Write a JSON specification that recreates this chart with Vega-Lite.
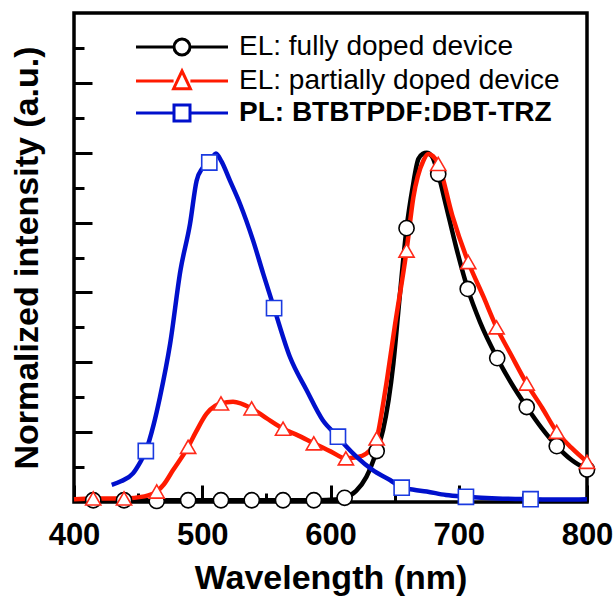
{
  "$schema": "https://vega.github.io/schema/vega-lite/v6.json",
  "width": 513,
  "height": 489,
  "autosize": "none",
  "padding": {"left": 74, "top": 13, "right": 26, "bottom": 95},
  "background": "white",
  "config": {
    "font": "Liberation Sans",
    "view": {"stroke": "black", "strokeWidth": 3.5}
  },
  "datasets": {
    "curves": [
      {"s":"fully","wl":400,"v":0.005},{"s":"fully","wl":450,"v":0.005},{"s":"fully","wl":500,"v":0.005},{"s":"fully","wl":550,"v":0.005},{"s":"fully","wl":590,"v":0.005},{"s":"fully","wl":604,"v":0.007},{"s":"fully","wl":611,"v":0.012},{"s":"fully","wl":620,"v":0.032},{"s":"fully","wl":628,"v":0.072},{"s":"fully","wl":636,"v":0.146},{"s":"fully","wl":641,"v":0.206},{"s":"fully","wl":649,"v":0.396},{"s":"fully","wl":654,"v":0.59},{"s":"fully","wl":659.3,"v":0.784},{"s":"fully","wl":664,"v":0.9},{"s":"fully","wl":668.5,"v":0.982},{"s":"fully","wl":672,"v":0.997},{"s":"fully","wl":675,"v":1.0},{"s":"fully","wl":679,"v":0.99},{"s":"fully","wl":684,"v":0.939},{"s":"fully","wl":690,"v":0.85},{"s":"fully","wl":698,"v":0.729},{"s":"fully","wl":707,"v":0.61},{"s":"fully","wl":716.6,"v":0.515},{"s":"fully","wl":730,"v":0.412},{"s":"fully","wl":741,"v":0.34},{"s":"fully","wl":753,"v":0.272},{"s":"fully","wl":765,"v":0.21},{"s":"fully","wl":776.4,"v":0.16},{"s":"fully","wl":788,"v":0.12},{"s":"fully","wl":800,"v":0.093},
      {"s":"partially","wl":400,"v":0.008},{"s":"partially","wl":415,"v":0.01},{"s":"partially","wl":439,"v":0.01},{"s":"partially","wl":455,"v":0.016},{"s":"partially","wl":464.5,"v":0.03},{"s":"partially","wl":470,"v":0.05},{"s":"partially","wl":477,"v":0.09},{"s":"partially","wl":489,"v":0.158},{"s":"partially","wl":495,"v":0.2},{"s":"partially","wl":503.4,"v":0.253},{"s":"partially","wl":510,"v":0.275},{"s":"partially","wl":514.6,"v":0.282},{"s":"partially","wl":524,"v":0.287},{"s":"partially","wl":538.5,"v":0.268},{"s":"partially","wl":550,"v":0.24},{"s":"partially","wl":563,"v":0.21},{"s":"partially","wl":575,"v":0.19},{"s":"partially","wl":587,"v":0.168},{"s":"partially","wl":600,"v":0.145},{"s":"partially","wl":612,"v":0.125},{"s":"partially","wl":620,"v":0.128},{"s":"partially","wl":628,"v":0.139},{"s":"partially","wl":636,"v":0.182},{"s":"partially","wl":641,"v":0.28},{"s":"partially","wl":644,"v":0.349},{"s":"partially","wl":650,"v":0.5},{"s":"partially","wl":659.3,"v":0.72},{"s":"partially","wl":664.6,"v":0.872},{"s":"partially","wl":672.4,"v":0.977},{"s":"partially","wl":676.3,"v":0.996},{"s":"partially","wl":680,"v":0.99},{"s":"partially","wl":684,"v":0.968},{"s":"partially","wl":695,"v":0.82},{"s":"partially","wl":707.4,"v":0.687},{"s":"partially","wl":719,"v":0.59},{"s":"partially","wl":729.5,"v":0.5},{"s":"partially","wl":741,"v":0.42},{"s":"partially","wl":753,"v":0.339},{"s":"partially","wl":765,"v":0.27},{"s":"partially","wl":776.4,"v":0.201},{"s":"partially","wl":788,"v":0.155},{"s":"partially","wl":800,"v":0.115},
      {"s":"PL","wl":429.4,"v":0.049},{"s":"PL","wl":437,"v":0.06},{"s":"PL","wl":446,"v":0.082},{"s":"PL","wl":451,"v":0.11},{"s":"PL","wl":456,"v":0.146},{"s":"PL","wl":462,"v":0.22},{"s":"PL","wl":467,"v":0.3},{"s":"PL","wl":475,"v":0.454},{"s":"PL","wl":483,"v":0.663},{"s":"PL","wl":490.5,"v":0.797},{"s":"PL","wl":495.6,"v":0.92},{"s":"PL","wl":500,"v":0.955},{"s":"PL","wl":505.5,"v":0.972},{"s":"PL","wl":510.7,"v":0.998},{"s":"PL","wl":515,"v":0.975},{"s":"PL","wl":521.6,"v":0.92},{"s":"PL","wl":529.4,"v":0.854},{"s":"PL","wl":539.6,"v":0.749},{"s":"PL","wl":547.5,"v":0.654},{"s":"PL","wl":556,"v":0.555},{"s":"PL","wl":568.4,"v":0.415},{"s":"PL","wl":581.4,"v":0.32},{"s":"PL","wl":594,"v":0.234},{"s":"PL","wl":605.8,"v":0.187},{"s":"PL","wl":612,"v":0.16},{"s":"PL","wl":620.4,"v":0.129},{"s":"PL","wl":633,"v":0.091},{"s":"PL","wl":646.4,"v":0.063},{"s":"PL","wl":655.5,"v":0.041},{"s":"PL","wl":665,"v":0.035},{"s":"PL","wl":675,"v":0.03},{"s":"PL","wl":690,"v":0.02},{"s":"PL","wl":705.6,"v":0.015},{"s":"PL","wl":730,"v":0.01},{"s":"PL","wl":756,"v":0.008},{"s":"PL","wl":780,"v":0.007},{"s":"PL","wl":800,"v":0.008}
    ],
    "markers": [
      {"s":"fully","wl":415,"v":0.005},{"s":"fully","wl":439,"v":0.005},{"s":"fully","wl":464.5,"v":0.003},{"s":"fully","wl":489,"v":0.005},{"s":"fully","wl":514.6,"v":0.005},{"s":"fully","wl":538.6,"v":0.005},{"s":"fully","wl":563,"v":0.005},{"s":"fully","wl":587,"v":0.005},{"s":"fully","wl":611,"v":0.012},{"s":"fully","wl":636,"v":0.146},{"s":"fully","wl":659.3,"v":0.784},{"s":"fully","wl":684,"v":0.939},{"s":"fully","wl":707,"v":0.61},{"s":"fully","wl":730,"v":0.412},{"s":"fully","wl":753,"v":0.272},{"s":"fully","wl":776.4,"v":0.16},{"s":"fully","wl":800,"v":0.093},
      {"s":"partially","wl":415,"v":0.01},{"s":"partially","wl":439,"v":0.01},{"s":"partially","wl":464.5,"v":0.03},{"s":"partially","wl":489,"v":0.158},{"s":"partially","wl":514.6,"v":0.282},{"s":"partially","wl":538.5,"v":0.268},{"s":"partially","wl":563,"v":0.21},{"s":"partially","wl":587,"v":0.168},{"s":"partially","wl":612,"v":0.125},{"s":"partially","wl":636,"v":0.182},{"s":"partially","wl":659.3,"v":0.72},{"s":"partially","wl":684,"v":0.968},{"s":"partially","wl":707.4,"v":0.687},{"s":"partially","wl":729.5,"v":0.5},{"s":"partially","wl":753,"v":0.339},{"s":"partially","wl":776.4,"v":0.201},{"s":"partially","wl":800,"v":0.115},
      {"s":"PL","wl":456,"v":0.146},{"s":"PL","wl":505.5,"v":0.972},{"s":"PL","wl":556,"v":0.555},{"s":"PL","wl":605.8,"v":0.187},{"s":"PL","wl":655.5,"v":0.041},{"s":"PL","wl":705.6,"v":0.015},{"s":"PL","wl":756,"v":0.008}
    ]
  },
  "layer": [
    {
      "data": {"name": "curves"},
      "mark": {"type": "line", "interpolate": "monotone", "strokeWidth": 4.5},
      "encoding": {
        "x": {
          "field": "wl", "type": "quantitative",
          "scale": {"domain": [400, 800], "nice": false},
          "axis": {
            "values": [400, 450, 500, 550, 600, 650, 700, 750, 800],
            "labelExpr": "datum.value % 100 === 0 ? datum.label : ''",
            "format": "d",
            "tickSize": {"condition": {"test": "datum.value % 100 === 0", "value": -17}, "value": -9},
            "tickWidth": 3, "tickColor": "black",
            "domain": false, "grid": false,
            "labelFontSize": 31, "labelFontWeight": "bold", "labelColor": "black",
            "labelPadding": 35, "labelFlush": false, "labelOverlap": false,
            "title": "Wavelength (nm)", "titleFontSize": 34, "titleFontWeight": "bold", "titleColor": "black",
            "titlePadding": 3
          }
        },
        "y": {
          "field": "v", "type": "quantitative",
          "scale": {"domain": [0, 1.4], "nice": false},
          "axis": {
            "values": [0.1, 0.2, 0.3, 0.4, 0.5, 0.6, 0.7, 0.8, 0.9, 1.0, 1.1, 1.2, 1.3],
            "labels": false,
            "tickSize": {"condition": {"test": "round(datum.value * 10) % 2 === 0", "value": -18}, "value": -10},
            "tickWidth": 3, "tickColor": "black",
            "domain": false, "grid": false,
            "title": "Normalized intensity (a.u.)", "titleFontSize": 34, "titleFontWeight": "bold", "titleColor": "black",
            "titlePadding": 28
          }
        },
        "color": {
          "field": "s", "type": "nominal",
          "scale": {"domain": ["fully", "partially", "PL"], "range": ["#000000", "#ff1a00", "#0010cc"]},
          "legend": {
            "title": null, "orient": "none", "legendX": 57, "legendY": 20,
            "padding": 0, "rowPadding": 4,
            "labelFontSize": 28, "labelColor": "black", "labelLimit": 600,
            "labelExpr": "datum.value === 'fully' ? 'EL: fully doped device' : datum.value === 'partially' ? 'EL: partially doped device' : 'PL: BTBTPDF:DBT-TRZ'",
            "symbolSize": 256, "symbolStrokeWidth": 3, "symbolOffset": 37, "labelOffset": 43,
            "encode": {
              "symbols": {"update": {
                "shape": {"signal": "datum.value === 'fully' ? 'M-5.75,0L-1,0M1,0L5.75,0M-1,0A1,1 0 1,0 1,0A1,1 0 1,0 -1,0Z' : datum.value === 'partially' ? 'M-5.75,0L-1.05,0M1.05,0L5.75,0M0,-1.25L1.05,0.96L-1.05,0.96Z' : 'M-5.75,0L-1,0M1,0L5.75,0M-1,-1L1,-1L1,1L-1,1Z'"},
                "fill": {"value": "white"}, "fillOpacity": {"value": 1}, "opacity": {"value": 1},
                "size": {"value": 256}, "strokeWidth": {"value": 3}
              }},
              "labels": {"update": {
                "fontWeight": {"signal": "datum.value === 'PL' ? 'bold' : 'normal'"}
              }}
            }
          }
        }
      }
    },
    {
      "data": {"name": "markers"},
      "transform": [{"filter": "datum.s === 'fully'"}],
      "mark": {"type": "point", "shape": "circle", "filled": true, "fill": "white", "stroke": "#000000", "strokeWidth": 1.6, "size": 230, "opacity": 1},
      "encoding": {
        "x": {"field": "wl", "type": "quantitative"},
        "y": {"field": "v", "type": "quantitative"}
      }
    },
    {
      "data": {"name": "markers"},
      "transform": [{"filter": "datum.s === 'partially'"}],
      "mark": {"type": "point", "shape": "triangle-up", "filled": true, "fill": "white", "stroke": "#ff2a1a", "strokeWidth": 1.6, "size": 230, "opacity": 1},
      "encoding": {
        "x": {"field": "wl", "type": "quantitative"},
        "y": {"field": "v", "type": "quantitative"}
      }
    },
    {
      "data": {"name": "markers"},
      "transform": [{"filter": "datum.s === 'PL'"}],
      "mark": {"type": "point", "shape": "square", "filled": true, "fill": "white", "stroke": "#1a3ae0", "strokeWidth": 1.6, "size": 230, "opacity": 1},
      "encoding": {
        "x": {"field": "wl", "type": "quantitative"},
        "y": {"field": "v", "type": "quantitative"}
      }
    }
  ]
}
